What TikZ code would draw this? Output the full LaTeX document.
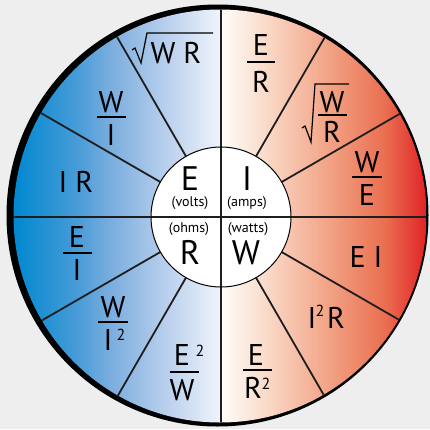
\documentclass[tikz,border=0pt]{standalone}
\usepackage{fontspec}
\setmainfont{PT Sans}
\usetikzlibrary{calc}
\definecolor{bgc}{RGB}{238,238,238}
\definecolor{b0}{RGB}{0,136,208}
\definecolor{bA}{RGB}{70,155,215}
\definecolor{bB}{RGB}{120,172,222}
\definecolor{bC}{RGB}{190,210,238}
\definecolor{b4}{RGB}{238,243,251}
\definecolor{r0}{RGB}{255,253,250}
\definecolor{rA}{RGB}{250,222,205}
\definecolor{rB}{RGB}{242,160,130}
\definecolor{rC}{RGB}{234,110,80}
\definecolor{r4}{RGB}{224,35,38}
\definecolor{linec}{RGB}{30,30,30}
\pgfdeclarehorizontalshading{ohmshade}{100bp}{color(0bp)=(b0); color(25bp)=(b0); color(32.5bp)=(bA); color(36.5bp)=(bB); color(44bp)=(bC); color(49.9bp)=(b4); color(50.1bp)=(r0); color(55bp)=(rA); color(63.5bp)=(rB); color(70bp)=(rC); color(75bp)=(r4); color(100bp)=(r4)}
\tikzset{
  sect/.style={font=\fontsize{30}{30}\selectfont, inner sep=0pt, anchor=base},
  mid/.style={font=\fontsize{34}{34}\selectfont, inner sep=0pt, anchor=base},
  unit/.style={font=\fontsize{14}{14}\selectfont, inner sep=0pt, anchor=base},
  sup/.style={font=\fontsize{16}{16}\selectfont, inner sep=0pt, anchor=base},
  fracbar/.style={line width=1.5pt, black},
  radical/.style={line width=1.2pt, black, line join=miter},
  divider/.style={line width=1.8pt, linec},
}
\begin{document}
\begin{tikzpicture}[x=1pt,y=-1pt]
\fill[bgc] (0,0) rectangle (430,429);
\useasboundingbox (0,0) rectangle (430,429);
\coordinate (C) at (221,217);
% rim
\fill[black] (217.5,215.5) circle[radius=211];
\begin{scope}
  \clip (220,216) circle[radius=206.5];
  \shade[shading=ohmshade] (220,216) circle[radius=206.5];
  \draw[divider] (221,0) -- (221,429);
  \draw[divider] (0,217) -- (430,217);
  \foreach \a in {30,60,120,150,210,240,300,330}
    \draw[divider] ($(C)+(\a:69)$) -- ($(C)+(\a:215)$);
\end{scope}
% inner circle
\fill[white] (C) circle[radius=70];
\draw[divider] (221,147) -- (221,287);
\draw[divider] (151,217) -- (291,217);
\draw[black, line width=1pt] (C) circle[radius=70];
% centre labels
\node[mid] (E) at (190,190) {E};
\node[unit] (volts) at (190,206) {(volts)};
\node[mid] (I) at (247,190) {I};
\node[unit] (amps) at (247,206) {(amps)};
\node[unit] (ohms) at (189,232) {(ohms)};
\node[mid] (R) at (190,264) {R};
\node[unit] (watts) at (248,232) {(watts)};
\node[mid] (W) at (246,264) {W};
% top-left quadrant
\node[sect] (wr) at (176,63) {W R};
\draw[radical] (132,50) -- (135,48) -- (141,63) -- (147,33) -- (213,33);
\node[sect] (wi1) at (111,112) {W};
\draw[fracbar] (97,117) -- (126,117);
\node[sect] (wi2) at (111,145) {I};
\node[sect] (ir) at (76,192) {I R};
% top-right quadrant
\node[sect] (er1) at (261,55) {E};
\draw[fracbar] (247,62) -- (275,62);
\node[sect] (er2) at (261,92) {R};
\node[sect] (swr1) at (332,112) {W};
\draw[fracbar] (318,115) -- (347,115);
\node[sect] (swr2) at (332,142) {R};
\draw[radical] (302,128) -- (305,126) -- (311,142) -- (315,84) -- (349,84);
\node[sect] (we1) at (367,172) {W};
\draw[fracbar] (352,177) -- (382,177);
\node[sect] (we2) at (367,205) {E};
% bottom-left quadrant
\node[sect] (ei1) at (77,247) {E};
\draw[fracbar] (63,253) -- (92,253);
\node[sect] (ei2) at (77,280) {I};
\node[sect] (wi3) at (113,317) {W};
\draw[fracbar] (98,322) -- (128,322);
\node[sect] (wi4) at (108,350) {I};
\node[sup] (wi5) at (121,340) {2};
\node[sect] (ew1) at (182,365) {E};
\node[sup] (ew2) at (200,356) {2};
\draw[fracbar] (170,372) -- (199,372);
\node[sect] (ew3) at (182,400) {W};
% bottom-right quadrant
\node[sect] (ei3) at (366,267) {E I};
\node[sect] (irr1) at (312,328) {I};
\node[sup] (irr2) at (320,316) {2};
\node[sect] (irr3) at (336,328) {R};
\node[sect] (er3) at (256,365) {E};
\draw[fracbar] (243,370) -- (272,370);
\node[sect] (er4) at (253,398) {R};
\node[sup] (er5) at (266,389) {2};
\end{tikzpicture}
\end{document}
